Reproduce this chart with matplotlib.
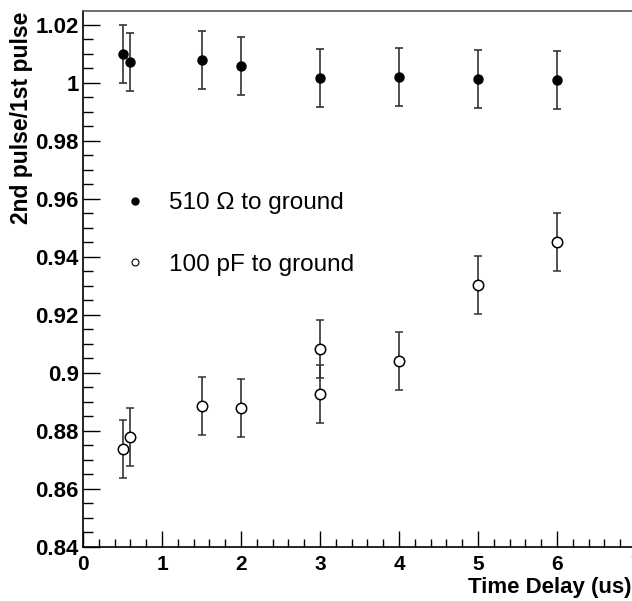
import numpy as np
import matplotlib
matplotlib.use('Agg')
import matplotlib.pyplot as plt
from matplotlib.lines import Line2D
from matplotlib.ticker import MultipleLocator, FuncFormatter

plt.rcParams['font.family'] = ['Liberation Sans', 'DejaVu Sans']

# data
delay_r = [0.5, 0.6, 1.5, 2.0, 3.0, 4.0, 5.0, 6.0]
ratio_r = [1.010, 1.0072, 1.008, 1.006, 1.0018, 1.0022, 1.0014, 1.0009]
err_r = [0.01, 0.01, 0.01, 0.01, 0.01, 0.01, 0.01, 0.01]

delay_c = [0.5, 0.6, 1.5, 2.0, 3.0, 3.0, 4.0, 5.0, 6.0]
ratio_c = [0.8739, 0.8779, 0.8887, 0.8878, 0.9082, 0.8929, 0.9041, 0.9303, 0.9452]
err_c = [0.01, 0.01, 0.01, 0.01, 0.01, 0.01, 0.01, 0.01, 0.01]

label_r = '510 \u03a9 to ground'
label_c = '100 pF to ground'

fig = plt.figure(figsize=(6.32, 6.01), dpi=100)
ax = fig.add_axes([83/632, 1 - 547/601, (636 - 83)/632, (547 - 11)/601])

ax.errorbar(delay_r, ratio_r, yerr=err_r, fmt='o', color='black', ecolor='#333333',
            elinewidth=1.2, capsize=3, capthick=1.2, markersize=6.5)
ax.errorbar(delay_c, ratio_c, yerr=err_c, fmt='o', color='black', ecolor='#333333',
            markerfacecolor='white', markeredgewidth=1.1,
            elinewidth=1.2, capsize=3, capthick=1.2, markersize=7.5)

ax.set_xlim(0, 7)
ax.set_ylim(0.84, 1.0248)

ax.xaxis.set_major_locator(MultipleLocator(1))
ax.xaxis.set_minor_locator(MultipleLocator(0.2))
ax.yaxis.set_major_locator(MultipleLocator(0.02))
ax.yaxis.set_minor_locator(MultipleLocator(0.005))
ax.yaxis.set_major_formatter(FuncFormatter(lambda v, p: ('%.2f' % v).rstrip('0').rstrip('.')))

ax.tick_params(which='both', direction='in', top=False, right=False)
ax.tick_params(axis='x', which='major', length=11.5, width=1, pad=6, labelsize=15)
ax.tick_params(axis='x', which='minor', length=6, width=1)
ax.tick_params(axis='y', which='major', length=12, width=1, pad=3, labelsize=16)
ax.tick_params(axis='y', which='minor', length=7, width=1)
for lab in ax.get_xticklabels() + ax.get_yticklabels():
    lab.set_fontweight('bold')

for s in ax.spines.values():
    s.set_linewidth(1.2)
ax.spines['top'].set_color('#555555')

fig.text(632/632, 1 - 587/601, 'Time Delay (us)', ha='right', va='center',
         fontsize=16, fontweight='bold')
fig.text(22/632, 1 - 12/601, '2nd pulse/1st pulse', rotation=90, ha='center', va='top',
         fontsize=16.5, fontweight='bold')

handles = [Line2D([], [], marker='o', ls='none', color='black', markersize=5),
           Line2D([], [], marker='o', ls='none', color='black', markerfacecolor='white',
                  markersize=5, markeredgewidth=0.8)]
ax.legend(handles, [label_r, label_c], loc='upper left', bbox_to_anchor=(0.037, 0.703),
          frameon=False, fontsize=17.5, labelspacing=1.63, handletextpad=1.0,
          handlelength=0.8)

fig.savefig('out.png', dpi=100)
